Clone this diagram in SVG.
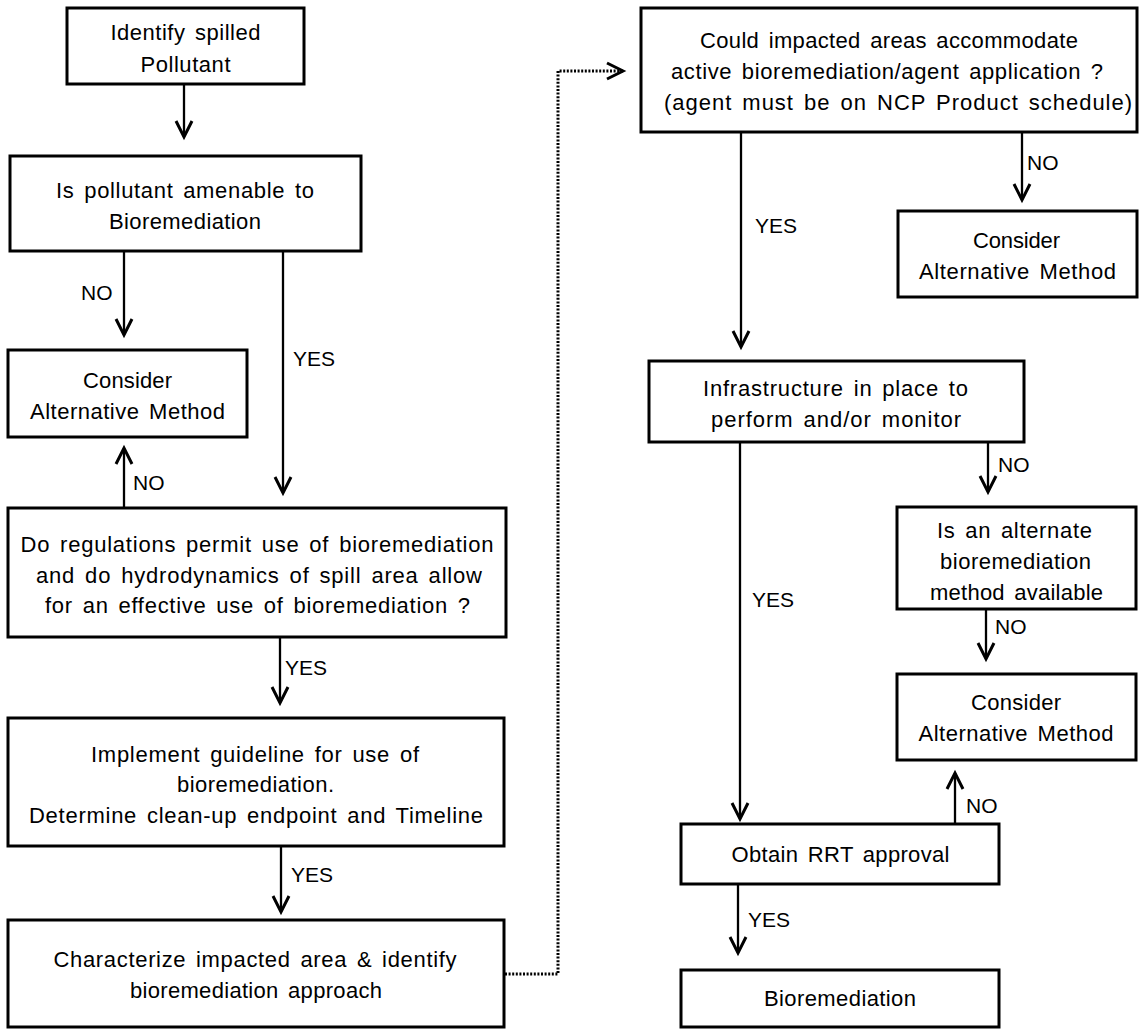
<svg xmlns="http://www.w3.org/2000/svg" width="1140" height="1029" viewBox="0 0 1140 1029">
<style>
  .box { fill: #ffffff; stroke: #000000; stroke-width: 3; }
  .t { font-family: "Liberation Sans", Arial, sans-serif; font-size: 22px; fill: #000000; text-anchor: middle; word-spacing: 3px; }
  .lbl { font-family: "Liberation Sans", Arial, sans-serif; font-size: 21px; fill: #000000; text-anchor: start; }
  .conn { fill: none; stroke: #000000; stroke-width: 2.3; marker-end: url(#chev); }
  .dot { fill: none; stroke: #000000; stroke-width: 3; stroke-dasharray: 2 1.6; marker-end: url(#chev); }
</style>
<defs>
  <marker id="chev" viewBox="-3 -3 22 22" refX="16" refY="8" markerWidth="22" markerHeight="22" markerUnits="userSpaceOnUse" orient="auto" overflow="visible">
    <path d="M0,0 L16,8 L0,16" fill="none" stroke="#000000" stroke-width="3" stroke-linejoin="miter"/>
  </marker>
</defs>
<rect width="1140" height="1029" fill="#ffffff"/>

<g id="connectors">
  <path class="conn" d="M184,84 V137"/>
  <path class="conn" d="M124,251 V335"/>
  <path class="conn" d="M283,251 V493"/>
  <path class="conn" d="M124,508 V448"/>
  <path class="conn" d="M280,637 V703"/>
  <path class="conn" d="M281,846 V912"/>
  <path class="dot" d="M505,974 H558 V71 H623"/>
  <path class="conn" d="M741,132 V347"/>
  <path class="conn" d="M1022,132 V200"/>
  <path class="conn" d="M988,442 V492"/>
  <path class="conn" d="M986,609 V659"/>
  <path class="conn" d="M740,442 V819"/>
  <path class="conn" d="M955,824 V773"/>
  <path class="conn" d="M738,884 V953"/>
  <text class="lbl" x="81" y="300">NO</text>
  <text class="lbl" x="293" y="366">YES</text>
  <text class="lbl" x="133" y="490">NO</text>
  <text class="lbl" x="285" y="675">YES</text>
  <text class="lbl" x="291" y="882">YES</text>
  <text class="lbl" x="1027" y="170">NO</text>
  <text class="lbl" x="755" y="233">YES</text>
  <text class="lbl" x="998" y="472">NO</text>
  <text class="lbl" x="752" y="607">YES</text>
  <text class="lbl" x="995" y="634">NO</text>
  <text class="lbl" x="966" y="813">NO</text>
  <text class="lbl" x="748" y="927">YES</text>
</g>

<g id="node-identify">
  <rect class="box" x="67" y="8" width="237" height="76"/>
  <text class="t" x="185.5" y="40" textLength="150">Identify spilled</text>
  <text class="t" x="185.5" y="72" textLength="90">Pollutant</text>
</g>
<g id="node-amenable">
  <rect class="box" x="10" y="156" width="351" height="95"/>
  <text class="t" x="185" y="198" textLength="258">Is pollutant amenable to</text>
  <text class="t" x="185" y="229" textLength="152">Bioremediation</text>
</g>
<g id="node-alt1">
  <rect class="box" x="8" y="350" width="239" height="87"/>
  <text class="t" x="127.5" y="388" textLength="89">Consider</text>
  <text class="t" x="127.5" y="419" textLength="195">Alternative Method</text>
</g>
<g id="node-regulations">
  <rect class="box" x="8" y="508" width="498" height="129"/>
  <text class="t" x="257" y="552" textLength="473">Do regulations permit use of bioremediation</text>
  <text class="t" x="259" y="583" textLength="446">and do hydrodynamics of spill area allow</text>
  <text class="t" x="257.5" y="613" textLength="425">for an effective use of bioremediation ?</text>
</g>
<g id="node-guideline">
  <rect class="box" x="8" y="718" width="496" height="128"/>
  <text class="t" x="255" y="762" textLength="328">Implement guideline for use of</text>
  <text class="t" x="255.5" y="792" textLength="157">bioremediation.</text>
  <text class="t" x="256" y="823" textLength="454">Determine clean-up endpoint and Timeline</text>
</g>
<g id="node-characterize">
  <rect class="box" x="8" y="920" width="496" height="107"/>
  <text class="t" x="255" y="967" textLength="403">Characterize impacted area &amp; identify</text>
  <text class="t" x="256" y="998" textLength="252">bioremediation approach</text>
</g>
<g id="node-accommodate">
  <rect class="box" x="641" y="8" width="496" height="124"/>
  <text class="t" x="889" y="48" textLength="378">Could impacted areas accommodate</text>
  <text class="t" x="887" y="79" textLength="432">active bioremediation/agent application ?</text>
  <text class="t" x="898" y="110" textLength="468">(agent must be on NCP Product schedule)</text>
</g>
<g id="node-alt2">
  <rect class="box" x="898" y="211" width="239" height="86"/>
  <text class="t" x="1016.5" y="248" textLength="87">Consider</text>
  <text class="t" x="1017.5" y="279" textLength="197">Alternative Method</text>
</g>
<g id="node-infrastructure">
  <rect class="box" x="649" y="361" width="375" height="81"/>
  <text class="t" x="835.5" y="396" textLength="265">Infrastructure in place to</text>
  <text class="t" x="836" y="427" textLength="250">perform and/or monitor</text>
</g>
<g id="node-alternate">
  <rect class="box" x="897" y="507" width="239" height="102"/>
  <text class="t" x="1014.5" y="538" textLength="155">Is an alternate</text>
  <text class="t" x="1015.5" y="569" textLength="151">bioremediation</text>
  <text class="t" x="1016.5" y="600" textLength="173">method available</text>
</g>
<g id="node-alt3">
  <rect class="box" x="897" y="674" width="239" height="86"/>
  <text class="t" x="1016" y="710" textLength="90">Consider</text>
  <text class="t" x="1016" y="741" textLength="195">Alternative Method</text>
</g>
<g id="node-rrt">
  <rect class="box" x="681" y="824" width="318" height="60"/>
  <text class="t" x="840.5" y="862" textLength="218">Obtain RRT approval</text>
</g>
<g id="node-bioremediation">
  <rect class="box" x="681" y="970" width="318" height="57"/>
  <text class="t" x="840" y="1006" textLength="152">Bioremediation</text>
</g>
</svg>
